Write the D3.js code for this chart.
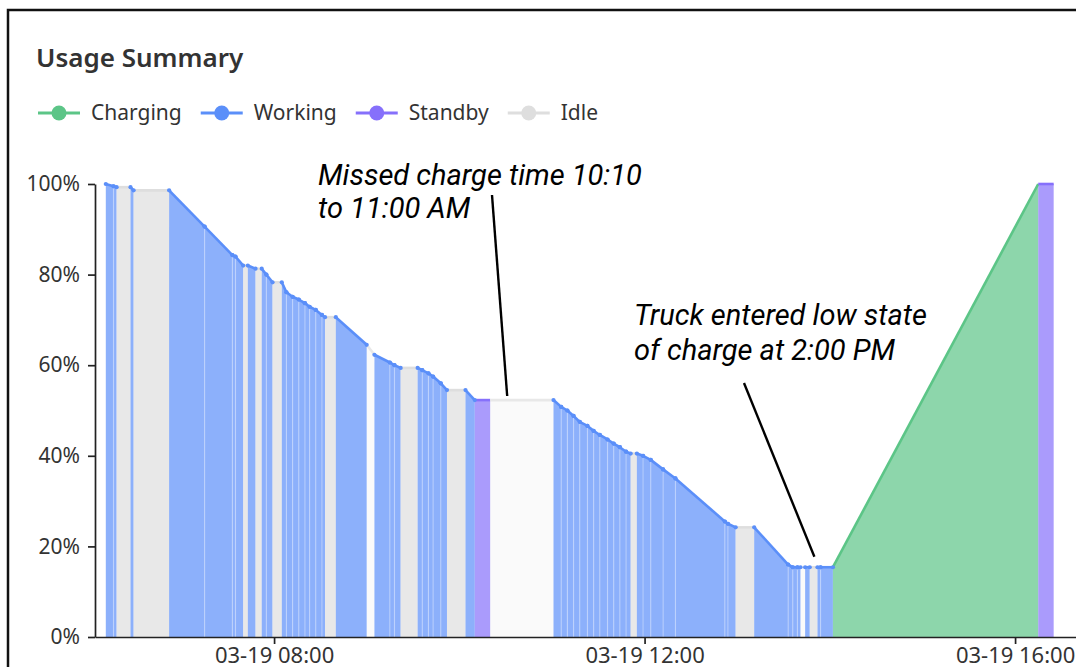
<!DOCTYPE html>
<html><head><meta charset="utf-8">
<script src="https://cdn.jsdelivr.net/npm/d3@7"></script>
<style>body{margin:0;background:#fff;overflow:hidden} svg{display:block}</style>
</head><body>
<svg id="chart" width="1076" height="667"></svg>
<script>
// ---- data ----
const day = "2024-03-19";
const times = ["06:11","06:16","06:18","06:27","06:29","06:52","07:15","07:33","07:35","07:40","07:43","07:48","07:52","07:55","07:59","08:05","08:08","08:12","08:16","08:20","08:23","08:27","08:31","08:33","08:40","09:00","09:05","09:15","09:18","09:22","09:33","09:36","09:40","09:43","09:48","09:52","10:04","10:10","10:20","11:01","11:06","11:10","11:14","11:18","11:23","11:27","11:31","11:36","11:40","11:44","11:48","11:51","11:55","11:59","12:04","12:12","12:20","12:52","12:54","12:59","13:11","13:33","13:36","13:39","13:41","13:44","13:47","13:52","13:54","14:02","16:15","16:25"];
const soc = [100,99.5,99.3,99.3,98.6,98.6,90.6,84.3,84.0,82.0,82.0,81.3,81.3,80.0,78.3,78.3,76.1,75.1,74.5,73.7,72.9,72.2,71.1,70.6,70.6,64.5,62.3,60.6,60.0,59.4,59.4,58.9,58.2,57.5,56.0,54.5,54.5,52.3,52.3,52.3,50.8,50.0,48.8,47.5,46.6,45.5,44.6,43.6,42.7,41.9,40.9,40.5,40.5,40.0,39.1,37.0,35.0,25.5,25.0,24.2,24.2,16.0,15.4,15.4,15.4,15.4,15.4,15.4,15.4,15.4,100,100];
// state of the segment starting at times[i]
const states = ["Working","Working","Idle","Working","Idle","Working","Working","Working","Working","Idle","Working","Idle","Working","Working","Idle","Working","Working","Working","Working","Working","Working","Working","Working","Idle","Working","Offline","Working","Working","Working","Idle","Working","Working","Working","Working","Working","Idle","Working","Standby","Offline","Working","Working","Working","Working","Working","Working","Working","Working","Working","Working","Working","Working","Idle","Working","Working","Working","Working","Working","Working","Working","Idle","Working","Working","Working","Working","Offline","Working","Idle","Working","Working","Charging","Standby"];
const legendNames = ["Charging","Working","Standby","Idle"];
const yTickValues = [0,20,40,60,80,100];
const xDomain = ["06:04","16:45"];
const title = "Usage Summary";
const noteText = [["Missed charge time 10:10","to 11:00 AM"],["Truck entered low state","of charge at 2:00 PM"]];
const noteTarget = [["10:31",53.2],["13:50",17.7]];

// ---- styles ----
const lineColor = {Working:"#5b8ff9",Charging:"#5cc587",Standby:"#8670fb",Idle:"#dedede",Offline:"#e8e8e8"};
const fillOpacity = {Working:0.7,Charging:0.7,Standby:0.7,Idle:0.7,Offline:0.2};
const noteLayout = [{x:318,y:185,dy:33,lx:492,ly:195},{x:634,y:325,dy:35,lx:744,ly:383}];

const parse = d3.timeParse("%Y-%m-%d %H:%M");
const T = s => parse(day+" "+s);
const pts = times.map((t,i)=>({t:T(t),v:soc[i]}));

const svg = d3.select("#chart");
const font = "'Noto Sans', 'Open Sans', sans-serif";

const x = d3.scaleTime().domain(xDomain.map(T)).range([95, 95 + 641*1.54375]);
const y = d3.scaleLinear().domain([0,100]).range([637,184]);

// card border
svg.append("rect").attr("x",8).attr("y",10).attr("width",1200).attr("height",800)
  .attr("fill","none").attr("stroke","#111").attr("stroke-width",2.5);

// title
svg.append("text").attr("x",36).attr("y",67).text(title)
  .attr("font-family",font).attr("font-size",26).attr("font-weight",600).attr("fill","#333");

// legend
let lx = 38;
const lg = svg.append("g");
legendNames.forEach(n=>{
  const g = lg.append("g").attr("transform",`translate(${lx},113)`);
  g.append("line").attr("x1",0).attr("x2",42).attr("stroke",lineColor[n]).attr("stroke-width",3);
  g.append("circle").attr("cx",21).attr("r",7.5).attr("fill",lineColor[n]);
  const t = g.append("text").attr("x",53).attr("dy","0.35em").text(n)
    .attr("font-family",font).attr("font-size",21).attr("fill","#333");
  lx += 53 + t.node().getComputedTextLength() + 19;
});

// segments
const segs = states.map((s,i)=>({s, a:pts[i], b:pts[i+1]}));
const gArea = svg.append("g");
segs.forEach(sg=>{
  const area = d3.area().x(d=>x(d.t)).y0(y(0)).y1(d=>y(d.v));
  gArea.append("path").attr("d",area([sg.a,sg.b]))
    .attr("fill",lineColor[sg.s]).attr("fill-opacity",fillOpacity[sg.s]);
});
// seams between consecutive working segments
segs.forEach((sg,i)=>{
  if(i>0 && sg.s==="Working" && segs[i-1].s==="Working"){
    gArea.append("line").attr("x1",x(sg.a.t)).attr("x2",x(sg.a.t))
      .attr("y1",y(0)).attr("y2",y(sg.a.v)+2)
      .attr("stroke","#fff").attr("stroke-opacity",0.3).attr("stroke-width",1.2);
  }
});
const gLine = svg.append("g");
segs.forEach(sg=>{
  const line = d3.line().x(d=>x(d.t)).y(d=>y(d.v));
  gLine.append("path").attr("d",line([sg.a,sg.b]))
    .attr("fill","none").attr("stroke",lineColor[sg.s]).attr("stroke-width",2.6);
});
segs.forEach(sg=>{
  if(sg.s==="Working"){
    [sg.a,sg.b].forEach(p=>gLine.append("circle").attr("cx",x(p.t)).attr("cy",y(p.v)).attr("r",2.1).attr("fill",lineColor.Working));
  }
});

// axes
const yAxis = svg.append("g").attr("transform","translate(95,0)")
  .call(d3.axisLeft(y).tickValues(yTickValues).tickFormat(d=>d+"%").tickSize(7).tickPadding(8).tickSizeOuter(0));
const xAxis = svg.append("g").attr("transform",`translate(0,${y(0)})`)
  .call(d3.axisBottom(x).ticks(d3.timeHour.every(4)).tickFormat(d3.timeFormat("%m-%d %H:%M")).tickSize(7).tickPadding(3).tickSizeOuter(0));
[yAxis,xAxis].forEach(a=>{
  a.selectAll("path,line").attr("stroke","#222").attr("stroke-width",1.7);
  a.selectAll("text").attr("font-family",font).attr("fill","#333");
});
yAxis.selectAll("text").attr("font-size",21);
xAxis.selectAll("text").attr("font-size",22);

// annotations
noteText.forEach((lines,i)=>{
  const L = noteLayout[i];
  const t = svg.append("text").attr("font-family","Roboto, sans-serif").attr("font-style","italic")
    .attr("font-size",29).attr("fill","#000");
  lines.forEach((s,j)=>t.append("tspan").attr("x",L.x).attr("y",L.y + j*L.dy).text(s));
  svg.append("line").attr("x1",L.lx).attr("y1",L.ly)
    .attr("x2",x(T(noteTarget[i][0]))).attr("y2",y(noteTarget[i][1]))
    .attr("stroke","#000").attr("stroke-width",2.4);
});
</script>
</body></html>
